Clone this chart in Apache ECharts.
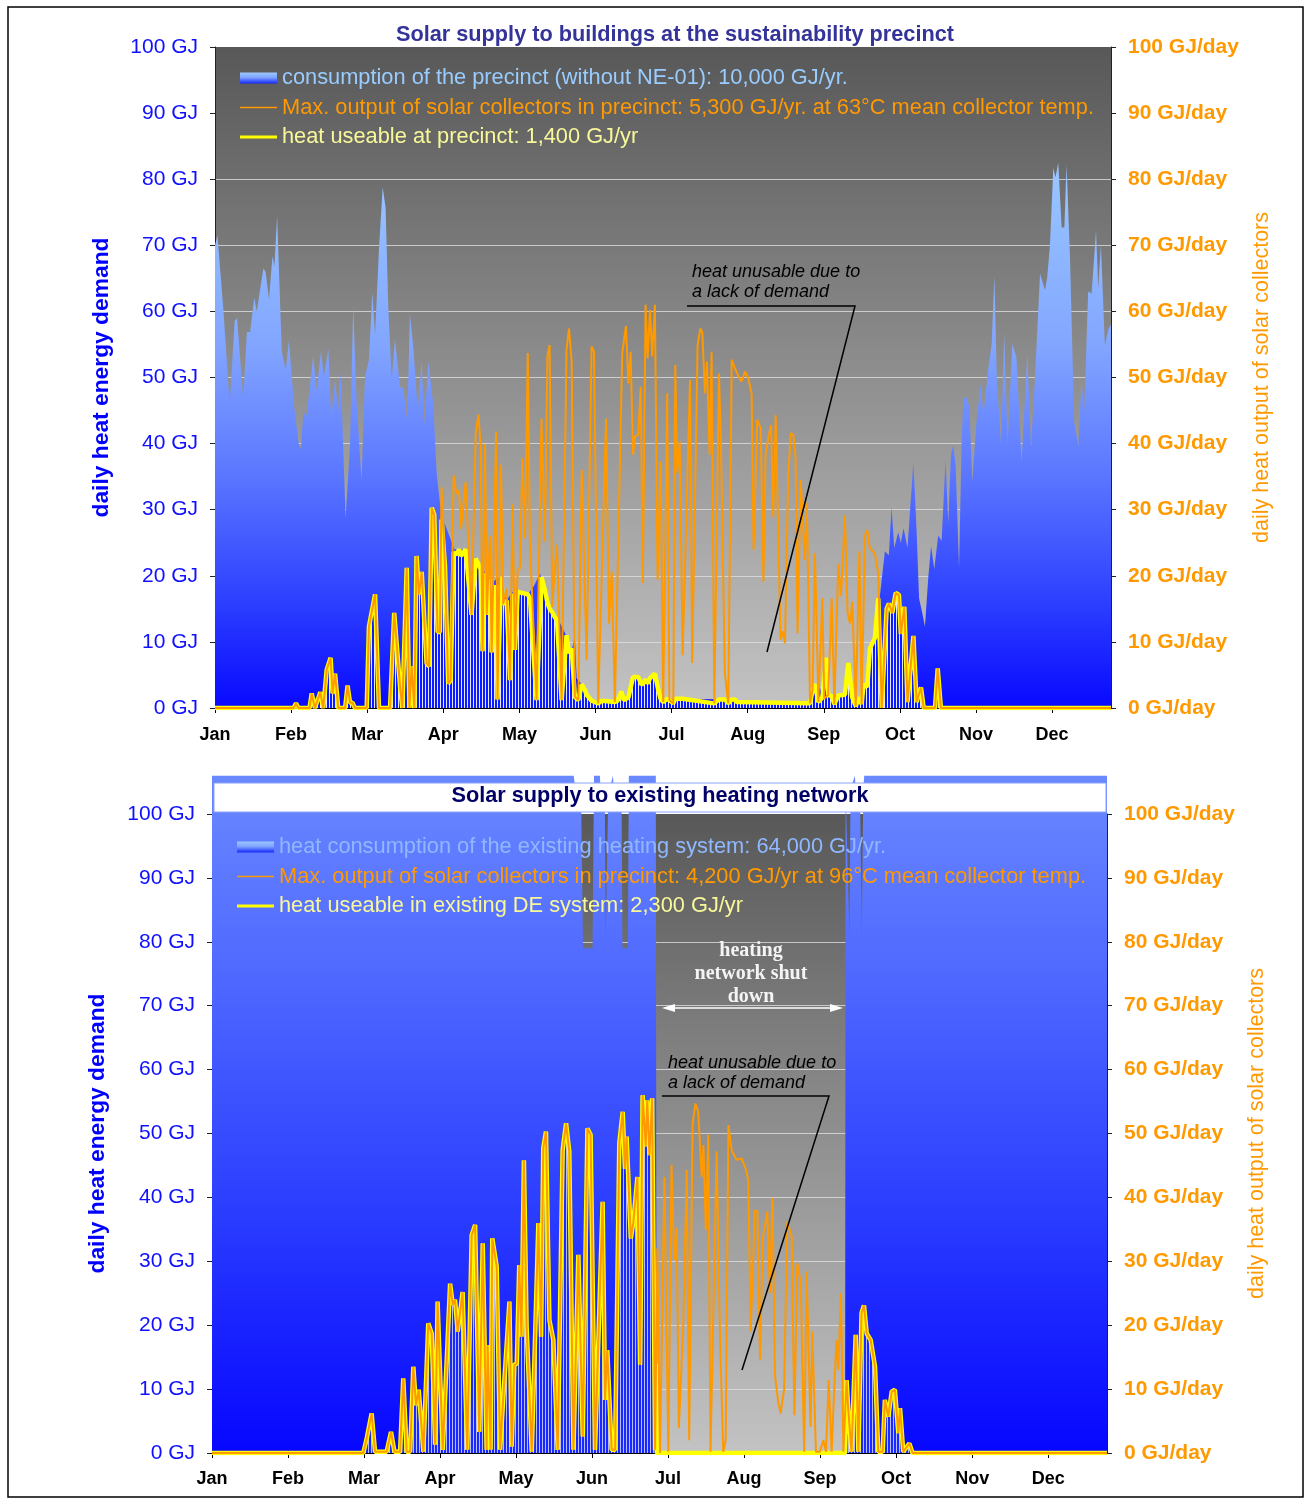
<!DOCTYPE html>
<html><head><meta charset="utf-8">
<script src="https://cdn.jsdelivr.net/npm/echarts/dist/echarts.min.js"></script>
<style>html,body{margin:0;padding:0;background:#fff}#c{width:1307px;height:1500px}</style>
</head><body><div id="c"></div>
<script>
// ---------- DATA (day of year, GJ/day) ----------
const months = ['Jan','Feb','Mar','Apr','May','Jun','Jul','Aug','Sep','Oct','Nov','Dec'];

const topTitle = 'Solar supply to buildings at the sustainability precinct';
const bottomTitle = 'Solar supply to existing heating network';
const topLegend = ['consumption of the precinct (without NE-01): 10,000 GJ/yr.',
  'Max. output of solar collectors in precinct: 5,300 GJ/yr. at 63°C mean collector temp.',
  'heat useable at precinct: 1,400 GJ/yr'];
const bottomLegend = ['heat consumption of the existing heating system: 64,000 GJ/yr.',
  'Max. output of solar collectors in precinct: 4,200 GJ/yr at 96°C mean collector temp.',
  'heat useable in existing DE system: 2,300 GJ/yr'];

const topConsumption = [[0,70],[1,71.5],[3.4,60.3],[4,60],[6,46],[8,58.5],[9,59],[11.5,46.7],[13,56.9],[14.3,56.9],[16,62.1],[17,60],[19.7,66.5],[20.6,66],[22,61.8],[23.4,68.4],[24.2,66.8],[25.3,74.4],[27.2,54],[28.8,51.1],[30.1,55.6],[32.3,45.4],[34,40.2],[35,39.1],[36,44.9],[37.3,44.1],[40,53.2],[41.4,48],[43.2,54],[44.3,50.1],[46.2,54.3],[47.3,43.8],[48.9,49.6],[50.2,44.9],[51.2,50.9],[53.2,28.7],[55,39.7],[56.3,60.8],[57.7,46],[59.7,34.4],[61.1,50.1],[62.7,52.7],[64.1,62.9],[65.2,56.4],[66.8,69.4],[68.3,78.8],[69.5,75.7],[70.6,60.5],[72,49.6],[73.3,55.8],[75.4,48.5],[76.7,48.5],[78.3,43.3],[79.4,59.5],[80.8,54.5],[82.6,44.9],[84.2,52.4],[85.3,42.8],[86.9,52.4],[88.9,46],[90.3,35.5],[92.3,28.7],[94,27.5],[96,25.5],[97.5,24],[102,24],[103,22],[104.6,17.4],[106,22.8],[108,21.5],[110,20.5],[113,19],[116,19.9],[118.8,16.3],[121,17.5],[124,17.6],[127,17],[130,18.5],[132.4,20.4],[134,18],[136,15.2],[138,13.5],[140.5,12.9],[143,11],[144,8.3],[145.5,9],[146.6,10.8],[147.3,4.5],[149.4,3.6],[150.7,2.7],[151.5,2],[153,1.1],[165,1.1],[165.6,2.5],[166.5,1.2],[168.4,1.6],[170.4,4.7],[171.5,4.5],[172.4,4.7],[173.8,3.5],[175.4,4.3],[176.2,3.7],[177.2,4.5],[179.2,5.2],[180.3,3.2],[181.5,1.4],[211.8,1.3],[212.5,0.9],[242,0.9],[243.4,2.7],[244.4,3.6],[246.5,3.0],[247.4,1.6],[249,7.6],[250.3,1.8],[256.6,2],[258,6.8],[259.6,1.6],[263,1.6],[264.2,3.6],[265.7,3.2],[266.8,9],[268.8,10.6],[270.2,16.6],[270.9,17.1],[272.9,23.7],[274.5,23.1],[275.6,30.4],[276.7,24.2],[278.3,26.6],[279.4,25],[280.5,27.2],[282.1,24.2],[284.5,37.2],[285.8,26.9],[286.8,16.6],[288.1,14.4],[289.2,12.3],[290.6,19.9],[291.7,24.5],[293,21],[294.6,26.1],[296,25.3],[297.6,37.5],[298.7,28],[299.8,38.3],[300.7,39.7],[301.7,36.7],[303.1,21.2],[304.1,39.4],[304.8,46.7],[306.2,47],[307.3,45.6],[308.5,34.2],[310.3,43.7],[311.9,49.1],[313,44.3],[315,51.3],[316.4,55.1],[317.5,65.4],[318.5,49.7],[320.2,39.9],[321.5,56.5],[322.9,39.9],[324.8,55.1],[326.5,53],[328.6,37.2],[330.9,53.5],[332.4,39.4],[334,49.7],[336.1,65.7],[338.1,63.2],[339,65.1],[340.1,69.8],[341.5,81.7],[342.4,80.3],[343.5,82.5],[344.9,72.7],[346,72.7],[346.9,82.2],[348.3,68.1],[350,43.2],[351.7,39.7],[353,49.7],[354.1,44.8],[355.7,63],[357.1,62.7],[358.9,72.2],[359.8,63.5],[360.9,70],[362.5,54.8],[363.9,57.3],[365,58]];

const topMaxOutput = [[0,0],[32,0],[33,0.7],[34,0],[38.5,0],[39.4,2.2],[40.7,0],[42.9,2.4],[44.1,0],[45.5,5.8],[47.1,7.6],[47.9,2.2],[48.9,5.2],[50.2,0],[53,0],[54,3.4],[55,0.8],[56,0.8],[57,0],[61.8,0],[62.7,12.3],[65.2,17.2],[66.8,0],[71.3,0],[73,14.4],[75.4,3.2],[76.3,0],[78.1,21.2],[79.2,0],[80.1,6.3],[81.2,0],[82.1,23],[83.1,17.2],[84.2,20.6],[86.2,6.8],[87.2,6.3],[88.3,30.3],[89.3,29.2],[90.7,11.5],[91.6,11.5],[92.3,33.4],[93.7,21.4],[95,3.7],[96,4.2],[97.2,35.2],[98.4,32.4],[99.4,32.9],[100.2,27.1],[102.1,34.2],[104.5,14.1],[106.2,41.5],[107.3,44.4],[108.2,39.7],[109,8.6],[110,39.9],[110.7,14.1],[112,26.1],[112.7,8.4],[114.5,41.8],[115.1,1.3],[116.5,36.8],[117.4,15.7],[118.8,18],[120.2,4.2],[121.2,30.8],[122.2,8.8],[123.3,20.9],[124.2,21.1],[125.2,37.8],[126.3,25.7],[127.4,53.7],[128.3,24.9],[131,1.2],[133,43.8],[134.4,25.2],[135.4,53.2],[136.3,54.9],[137.4,15.3],[138.5,21.4],[139.3,24.7],[141.2,1.2],[143.2,54.2],[144.2,57.4],[145.3,52.4],[146.6,1.7],[148,1.2],[149.4,36],[151.4,7.3],[153.4,54.7],[154.4,53.9],[156.1,0.7],[159.3,43.8],[160.5,12.8],[161.6,20.6],[162.9,0.9],[165.9,53.7],[167.4,57.8],[168.4,49.1],[169.3,53.9],[170.3,38.3],[171.1,41.1],[172.4,41.3],[173.4,48.6],[174.3,18.9],[175.4,61],[176.2,52.9],[177.2,60.2],[178.1,53.2],[179.2,61],[180.3,19.4],[181.5,37.3],[182.6,0.9],[184.2,47.6],[185.1,1.2],[186.7,0.7],[187.5,51.9],[188.3,35.5],[189.3,40.3],[190.5,8],[193.5,49.6],[194.4,6.8],[196.6,54.9],[197.7,57.4],[198.5,56.9],[199.6,47.6],[200.4,52.4],[201.5,38.3],[202.3,53.9],[203.4,0.7],[205.3,50.6],[206.1,40],[207.7,5.2],[209.1,0.7],[210.5,52.7],[211.8,51.4],[212.9,50.4],[214.5,49.4],[215.9,50.9],[217.2,49.9],[218.6,47.6],[219.4,23.9],[220.9,43.6],[222.3,42.3],[223.4,19.1],[224.3,38.5],[225.4,40.8],[226.5,42.8],[227.4,28.9],[228.4,44.3],[230.4,10.3],[231.2,11.6],[232.2,9.8],[233.5,35.2],[234.6,41.6],[235.6,41.3],[236.5,38],[237.3,11.3],[238.6,34.5],[240.3,22.4],[241.1,31],[242.4,0.7],[243.4,2.7],[244.4,23.4],[245.8,0.9],[247.4,16.6],[248.2,1.4],[249.8,2],[251.2,16.6],[252.3,0.6],[253.9,21.8],[255,16.9],[256.6,29.1],[257.7,14.4],[258.7,12.8],[259.6,16.1],[261,0.3],[262.5,23.7],[263.4,0.6],[264.8,26.1],[265.7,26.9],[266.8,24.2],[268.8,23.4],[270.2,20.4],[271.6,0],[273.6,15],[274.5,15.8],[275.9,14.4],[277.3,17.4],[278.6,17.1],[279.4,11.2],[280.8,15.3],[282.1,0.9],[284.5,10.9],[285.8,0.9],[287.6,3.1],[288.7,0],[293.3,0],[294.4,6],[295.7,0],[365,0]];

const topUseable = [[0,0],[32,0],[33,0.7],[34,0],[38.5,0],[39.4,2.2],[40.7,0],[42.9,2.4],[44.1,0],[45.5,5.8],[47.1,7.6],[47.9,2.2],[48.9,5.2],[50.2,0],[53,0],[54,3.4],[55,0.8],[56,0.8],[57,0],[61.8,0],[62.7,12.3],[65.2,17.2],[66.8,0],[71.3,0],[73,14.4],[75.4,3.2],[76.3,0],[78.1,21.2],[79.2,0],[80.1,6.3],[81.2,0],[82.1,23],[83.1,17.2],[84.2,20.6],[86.2,6.8],[87.2,6.3],[88.3,30.3],[89.3,29.2],[90.7,11.5],[91.6,11.5],[92.3,28.5],[93.7,21.4],[95,3.7],[96,4.2],[97.2,23.5],[98.4,23.2],[99.4,24],[100.2,23],[102.1,24],[104.5,14.1],[106.2,22.6],[107.3,21.8],[108.2,21],[109,8.6],[110,20.4],[110.7,14.1],[112,19.5],[112.7,8.4],[114.5,18.6],[115.1,1.3],[116.5,19.8],[117.4,15.7],[118.8,16.3],[120.2,4.2],[121.2,17.3],[122.2,8.8],[123.3,17.6],[124.2,17.5],[125.2,17.4],[126.3,17.3],[127.4,17.2],[128.3,16.5],[131,1.2],[133,19.8],[134.4,17.8],[135.4,16],[136.3,15],[137.4,14.5],[138.5,13.7],[139.3,13.3],[141.2,1.2],[143.2,11],[144.2,8.3],[145.3,9],[146.6,1.7],[148,1.2],[149.4,3.6],[150.7,2.7],[151.4,2],[153.4,1.1],[156.1,0.7],[157.5,1.1],[162.9,0.9],[164,1.1],[165.6,2.5],[166.5,1.2],[168.4,1.6],[170.3,4.7],[171.1,4.5],[172.4,4.7],[173.8,3.5],[174.3,3.5],[175.4,4.3],[176.2,3.7],[177.2,4.5],[179.2,5.2],[180.3,3.2],[181.5,1.4],[182.6,0.9],[184.2,1.4],[185.1,1.2],[186.7,0.7],[187.5,1.4],[190.5,1.4],[203.4,0.7],[205.3,1.3],[207.7,1.3],[209.1,0.7],[210.5,1.3],[211.8,1.3],[212.5,0.9],[242.4,0.7],[243.4,2.7],[244.4,3.6],[245.8,0.9],[247.4,1.6],[248.2,1.4],[249,7.6],[249.8,2],[251.2,1.8],[252.3,0.6],[253.9,1.9],[256.6,2],[258,6.8],[259.6,1.6],[261,0.3],[262.5,1.6],[263.4,0.6],[264.2,3.6],[265.7,3.2],[266.8,9],[268.8,10.6],[270.2,16.6],[271.6,0],[273.6,15],[274.5,15.8],[275.9,14.4],[277.3,17.4],[278.6,17.1],[279.4,11.2],[280.8,15.3],[282.1,0.9],[284.5,10.9],[285.8,0.9],[287.6,3.1],[288.7,0],[293.3,0],[294.4,6],[295.7,0],[365,0]];

// bottom chart: consumption runs off the top of the scale (visible to ~106 GJ)
const bottomConsumption = [[0,106],[147.5,106],[148.5,103],[150.5,103],[151.3,79],[155.2,79],[155.8,106],[158.2,106],[158.5,103],[160.2,103],[160.5,79],[161.3,79],[161.6,103],[163.5,106],[164,103],[167,103],[167.4,79],[169.6,79],[170,106],[181,106],[181.3,0],[258.2,0],[258.4,104],[259.2,104],[260,80],[260.4,104],[262.2,106],[262.6,103],[264.3,103],[265,80],[265.6,104],[266,106],[365,106]];

const bottomMaxOutput = [[0,0],[60.4,0],[61.7,0],[63.1,2.3],[65.1,6.2],[66.5,0.2],[71.2,0.2],[73,3.3],[74.4,0.2],[76.7,0.2],[78,11.7],[79.4,0.2],[80.8,0.2],[82.1,13.5],[83.2,7.5],[84.3,9.9],[86.2,0.2],[88.2,20.3],[89.6,18.7],[91,1.3],[92,23.7],[94.1,0.5],[97.1,26.5],[98.2,23.2],[99.1,24],[100.2,19],[102.2,25.2],[104.1,0.5],[105.9,34.1],[107.3,35.7],[109,3.3],[110.4,32.8],[112,0.5],[112.4,16.9],[113.6,0.5],[114.3,33.6],[116.1,29.2],[117.5,0.5],[119.2,11.2],[121.3,23.7],[122.2,1],[123.3,13.8],[124.3,14],[125.3,29.4],[126.2,18.2],[127.2,45.8],[128.3,19.8],[130.4,0.2],[133.1,36],[134.2,18.2],[135.1,47.7],[136.2,50.3],[137.6,20.8],[139.2,17.7],[141,0.5],[143,47.4],[144.4,51.6],[145.7,47.2],[147.4,0.5],[149.4,31],[151.2,2.6],[153.1,50.8],[154.4,49.8],[156.2,0.5],[159.3,39.3],[160.3,8.3],[161.2,16.1],[163,0.5],[164.4,0.5],[166.1,48.5],[167.5,53.4],[168.4,44.5],[169.1,49.5],[170.8,33.6],[171.8,36],[173.5,43.2],[174.6,13.8],[175.6,56],[176.9,48],[177.5,55.2],[178.4,46.6],[179.5,55.5],[180.7,0.5],[181.6,32],[182.7,0],[184.5,43.2],[186.1,0.2],[187.4,45.1],[188.5,30.2],[189.5,35.2],[190.4,3.9],[192.2,20.3],[193.6,44.3],[194.6,2],[196,51.6],[197.2,54.7],[198.3,53.4],[199.7,43.2],[200.4,48.2],[201.4,34.9],[202.4,49.8],[203.3,0.2],[205.8,47.2],[207.2,17.7],[208.5,0.2],[209.5,2],[210.6,51.3],[211.9,47.4],[213.9,45.9],[216,46.1],[217.8,44.3],[218.7,42.7],[219.7,19],[221.4,38],[222.4,37.8],[223.5,14.6],[224.6,33.6],[226.5,37.8],[227.5,25],[228.6,39.9],[229.6,12.2],[230.9,8],[231.9,6.2],[233.3,9.9],[234.6,36.2],[236.4,33.9],[237.5,5.9],[238.7,29.7],[240.1,26.6],[241.5,0.2],[242.5,28.4],[244.1,4.1],[244.8,19],[246.3,0.2],[247.9,0.2],[249.3,2],[250.4,0.2],[251.5,11.4],[252.7,0.2],[254.1,13],[254.7,17.7],[255.4,13],[256.5,25],[257.5,0.2],[258.8,11.4],[259.5,6.7],[260.8,0.2],[262.5,18.5],[263.6,0.2],[264.9,21.9],[265.9,23.1],[267,18.7],[268.6,17.7],[270.4,13.5],[271.7,0.2],[273.5,0.2],[274.4,8.3],[275.8,5.7],[277.2,9.6],[278.5,9.9],[279.9,3.1],[280.6,7],[281.9,0.2],[284.4,1.5],[285.7,0],[365,0]];

const bottomUseable = [[0,0],[60.4,0],[61.7,0],[63.1,2.3],[65.1,6.2],[66.5,0.2],[71.2,0.2],[73,3.3],[74.4,0.2],[76.7,0.2],[78,11.7],[79.4,0.2],[80.8,0.2],[82.1,13.5],[83.2,7.5],[84.3,9.9],[86.2,0.2],[88.2,20.3],[89.6,18.7],[91,1.3],[92,23.7],[94.1,0.5],[97.1,26.5],[98.2,23.2],[99.1,24],[100.2,19],[102.2,25.2],[104.1,0.5],[105.9,34.1],[107.3,35.7],[109,3.3],[110.4,32.8],[112,0.5],[112.4,16.9],[113.6,0.5],[114.3,33.6],[116.1,29.2],[117.5,0.5],[119.2,11.2],[121.3,23.7],[122.2,1],[123.3,13.8],[124.3,14],[125.3,29.4],[126.2,18.2],[127.2,45.8],[128.3,19.8],[130.4,0.2],[133.1,36],[134.2,18.2],[135.1,47.7],[136.2,50.3],[137.6,20.8],[139.2,17.7],[141,0.5],[143,47.4],[144.4,51.6],[145.7,47.2],[147.4,0.5],[149.4,31],[151.2,2.6],[153.1,50.8],[154.4,49.8],[156.2,0.5],[159.3,39.3],[160.3,8.3],[161.2,16.1],[163,0.5],[164.4,0.5],[166.1,48.5],[167.5,53.4],[168.4,44.5],[169.1,49.5],[170.8,33.6],[171.8,36],[173.5,43.2],[174.6,13.8],[175.6,56],[176.9,48],[177.5,55.2],[178.4,46.6],[179.5,55.5],[180.7,0.5],[181.1,14],[181.4,0],[258.2,0],[258.8,11.4],[259.5,6.7],[260.8,0.2],[262.5,18.5],[263.6,0.2],[264.9,21.9],[265.9,23.1],[267,18.7],[268.6,17.7],[270.4,13.5],[271.7,0.2],[273.5,0.2],[274.4,8.3],[275.8,5.7],[277.2,9.6],[278.5,9.9],[279.9,3.1],[280.6,7],[281.9,0.2],[284.4,1.5],[285.7,0],[365,0]];

// ---------- CHART ----------
const FONT = '"Liberation Sans", Arial, Helvetica, sans-serif';
const SERIF = '"Liberation Serif", "DejaVu Serif", serif';
const chart = echarts.init(document.getElementById('c'), null, {renderer:'canvas', width:1307, height:1500});
const G = echarts.graphic;

function stripe(base, light){
  const cv = document.createElement('canvas'); cv.width = 3; cv.height = 4;
  const ctx = cv.getContext('2d');
  ctx.fillStyle = base; ctx.fillRect(0,0,3,4);
  ctx.fillStyle = light; ctx.fillRect(2,0,1,4);
  return {image: cv, repeat: 'repeat'};
}

const grayBg = new G.LinearGradient(0,0,0,1,[{offset:0,color:'#585858'},{offset:0.5,color:'#8f8f8f'},{offset:1,color:'#c3c3c3'}]);
// grid lines 0..80 visible; 90 and 100 hidden behind the legend box in the original
const GL = 'rgba(222,222,222,0.8)';
const gridLineColors = [GL,GL,GL,GL,GL,GL,GL,GL,GL,'rgba(0,0,0,0)','rgba(0,0,0,0)'];

function xAxis(gi, margin){
  return {type:'value', gridIndex:gi, min:0, max:365, interval:31,
    axisLine:{show:true, onZero:false, lineStyle:{color:'#000', width:1}},
    axisTick:{show:true, length:5, lineStyle:{color:'#000'}},
    axisLabel:{margin:margin, color:'#000', fontFamily:FONT, fontWeight:'bold', fontSize:18,
      showMinLabel:true, showMaxLabel:false,
      formatter: v => { const k = Math.round(v/31); return (Math.abs(v-31*k)<1e-6 && k<12) ? months[k] : ''; }},
    splitLine:{show:false}};
}
function yLeft(gi, gap){
  return {type:'value', gridIndex:gi, min:0, max:100, interval:10, position:'left',
    name:'daily heat energy demand', nameLocation:'middle', nameRotate:90, nameGap:gap,
    nameTextStyle:{color:'#0000ff', fontFamily:FONT, fontWeight:'bold', fontSize:22.8},
    axisLine:{show:true, lineStyle:{color:'#222', width:1}},
    axisTick:{show:true, length:5, lineStyle:{color:'#222'}},
    axisLabel:{margin:17, color:'#1010ff', fontFamily:FONT, fontSize:21, formatter:'{value} GJ'},
    splitLine:{show:true, showMinLine:true, showMaxLine:true, lineStyle:{color:gridLineColors, width:1}}};
}
function yRight(gi, gap){
  return {type:'value', gridIndex:gi, min:0, max:100, interval:10, position:'right',
    name:'daily heat output of solar collectors', nameLocation:'middle', nameRotate:90, nameGap:gap,
    nameTextStyle:{color:'#ff9900', fontFamily:FONT, fontSize:21.5},
    axisLine:{show:true, lineStyle:{color:'#222', width:1}},
    axisTick:{show:true, length:5, lineStyle:{color:'#222'}},
    axisLabel:{margin:17, color:'#ff9900', fontFamily:FONT, fontWeight:'bold', fontSize:21, formatter:'{value} GJ/day'},
    splitLine:{show:false}};
}

const topConsGrad = new G.LinearGradient(0,47,0,708,[
  {offset:0,color:'#a8d2ff'},{offset:0.2,color:'#98c4ff'},{offset:0.45,color:'#82a6ff'},
  {offset:0.65,color:'#5a76ff'},{offset:0.85,color:'#2a3cff'},{offset:1,color:'#0808ff'}], true);
const botConsGrad = new G.LinearGradient(0,776,0,1453,[
  {offset:0,color:'#6a88ff'},{offset:0.3,color:'#4e68ff'},{offset:0.65,color:'#2a3cff'},{offset:1,color:'#0606ff'}], true);

function legendBlock(x, y0, texts, consColor){
  const els = [];
  const ys = [y0, y0+29.5, y0+59];
  els.push({type:'rect', shape:{x:x, y:ys[0]-5.5, width:37, height:11},
    style:{fill:new G.LinearGradient(0,0,0,1,[{offset:0,color:'#9cc6ff'},{offset:0.45,color:'#7fa4ff'},{offset:1,color:'#1428ff'}])}, z:100, silent:true});
  els.push({type:'line', shape:{x1:x, y1:ys[1], x2:x+37, y2:ys[1]}, style:{stroke:'#ff9900', lineWidth:1.5}, z:100, silent:true});
  els.push({type:'line', shape:{x1:x, y1:ys[2], x2:x+37, y2:ys[2]}, style:{stroke:'#ffff00', lineWidth:3}, z:100, silent:true});
  const cols = [consColor, '#ff9900', '#f8f89a'];
  texts.forEach((t,i) => els.push({type:'text', x:x+42, y:ys[i], z:100, silent:true,
    style:{text:t, fill:cols[i], fontSize:21.8, fontFamily:FONT, verticalAlign:'middle', textVerticalAlign:'middle', align:'left', textAlign:'left'}}));
  return els;
}

const graphics = [
  {type:'rect', shape:{x:8, y:7, width:1295, height:1490}, style:{fill:'none', stroke:'#000', lineWidth:1.5}, z:120, silent:true},
  {type:'text', x:675, y:35, z:101, silent:true, style:{text:topTitle, fill:'#333399', fontSize:21.7, fontWeight:'bold', fontFamily:FONT, align:'center', textAlign:'center', verticalAlign:'middle', textVerticalAlign:'middle'}},
  {type:'rect', shape:{x:214, y:783, width:892, height:29}, style:{fill:'#ffffff', stroke:'#8aa2ff', lineWidth:1}, z:100, silent:true},
  {type:'text', x:660, y:796, z:101, silent:true, style:{text:bottomTitle, fill:'#000066', fontSize:21.7, fontWeight:'bold', fontFamily:FONT, align:'center', textAlign:'center', verticalAlign:'middle', textVerticalAlign:'middle'}},
  ...legendBlock(240, 78, topLegend, '#99ccff'),
  ...legendBlock(237, 847, bottomLegend, '#8fb8ff'),
  // annotations top
  {type:'text', x:692, y:272, z:100, silent:true, style:{text:'heat unusable due to', fill:'#000', fontSize:18, fontStyle:'italic', fontFamily:FONT, verticalAlign:'middle', textVerticalAlign:'middle'}},
  {type:'text', x:692, y:292, z:100, silent:true, style:{text:'a lack of demand', fill:'#000', fontSize:18, fontStyle:'italic', fontFamily:FONT, verticalAlign:'middle', textVerticalAlign:'middle'}},
  {type:'polyline', shape:{points:[[687,306],[855,306],[767,652]]}, style:{stroke:'#000', lineWidth:1.5, fill:null}, z:100, silent:true},
  // annotations bottom
  {type:'text', x:751, y:951, z:100, silent:true, style:{text:'heating', fill:'#f4f4f4', fontSize:20, fontWeight:'bold', fontFamily:SERIF, align:'center', textAlign:'center', verticalAlign:'middle', textVerticalAlign:'middle'}},
  {type:'text', x:751, y:974, z:100, silent:true, style:{text:'network shut', fill:'#f4f4f4', fontSize:20, fontWeight:'bold', fontFamily:SERIF, align:'center', textAlign:'center', verticalAlign:'middle', textVerticalAlign:'middle'}},
  {type:'text', x:751, y:997, z:100, silent:true, style:{text:'down', fill:'#f4f4f4', fontSize:20, fontWeight:'bold', fontFamily:SERIF, align:'center', textAlign:'center', verticalAlign:'middle', textVerticalAlign:'middle'}},
  {type:'line', shape:{x1:668, y1:1008, x2:837, y2:1008}, style:{stroke:'#fff', lineWidth:1.5}, z:100, silent:true},
  {type:'polygon', shape:{points:[[662,1008],[675,1004],[675,1012]]}, style:{fill:'#fff'}, z:100, silent:true},
  {type:'polygon', shape:{points:[[843,1008],[830,1004],[830,1012]]}, style:{fill:'#fff'}, z:100, silent:true},
  {type:'text', x:668, y:1063, z:100, silent:true, style:{text:'heat unusable due to', fill:'#000', fontSize:18, fontStyle:'italic', fontFamily:FONT, verticalAlign:'middle', textVerticalAlign:'middle'}},
  {type:'text', x:668, y:1083, z:100, silent:true, style:{text:'a lack of demand', fill:'#000', fontSize:18, fontStyle:'italic', fontFamily:FONT, verticalAlign:'middle', textVerticalAlign:'middle'}},
  {type:'polyline', shape:{points:[[662,1096],[829,1096],[742,1370]]}, style:{stroke:'#000', lineWidth:1.5, fill:null}, z:100, silent:true}
];

const option = {
  animation:false,
  backgroundColor:'#ffffff',
  grid:[
    {left:215, top:47, width:896, height:661, show:true, backgroundColor:grayBg, borderWidth:0, containLabel:false, outerBoundsMode:'none'},
    {left:212, top:814, width:895, height:639, show:true, backgroundColor:grayBg, borderWidth:0, containLabel:false, outerBoundsMode:'none'}
  ],
  xAxis:[xAxis(0,18), xAxis(1,17)],
  yAxis:[yLeft(0,102), yRight(0,140), yLeft(1,103), yRight(1,139)],
  series:[
    {name:topLegend[0], type:'line', xAxisIndex:0, yAxisIndex:0, data:topConsumption, symbol:'none',
     lineStyle:{width:0, opacity:0}, areaStyle:{color:topConsGrad, opacity:1}, z:1},
    {name:topLegend[2], type:'line', xAxisIndex:0, yAxisIndex:0, data:topUseable, symbol:'none',
     lineStyle:{color:'#ffff00', width:4.5}, areaStyle:{color:stripe('#0c1cff','#e4e8ff'), opacity:1}, z:2},
    {name:topLegend[1], type:'line', xAxisIndex:0, yAxisIndex:0, data:topMaxOutput, symbol:'none',
     lineStyle:{color:'#ff9900', width:2}, z:3},
    {name:bottomLegend[0], type:'line', xAxisIndex:1, yAxisIndex:2, data:bottomConsumption, symbol:'none', clip:false,
     lineStyle:{width:0, opacity:0}, areaStyle:{color:botConsGrad, opacity:1}, z:1},
    {name:bottomLegend[2], type:'line', xAxisIndex:1, yAxisIndex:2, data:bottomUseable, symbol:'none',
     lineStyle:{color:'#ffff00', width:4.5}, areaStyle:{color:stripe('#1a2aff','#b4bcff'), opacity:1}, z:2},
    {name:bottomLegend[1], type:'line', xAxisIndex:1, yAxisIndex:2, data:bottomMaxOutput, symbol:'none',
     lineStyle:{color:'#ff9900', width:2}, z:3}
  ],
  graphic: graphics
};
chart.setOption(option);
</script></body></html>
